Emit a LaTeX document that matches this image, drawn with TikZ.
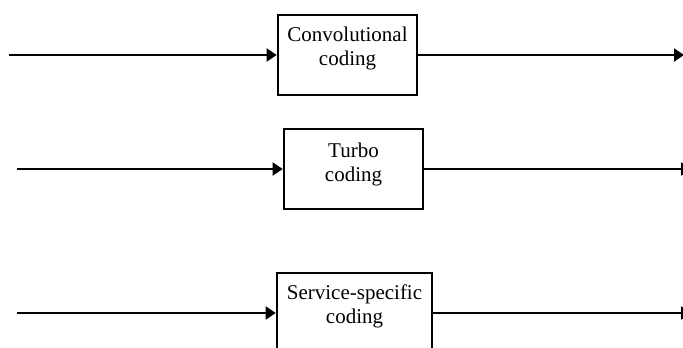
\documentclass[tikz,border=0pt]{standalone}
\usepackage{fontspec}
\setmainfont{Liberation Serif}
\usetikzlibrary{arrows.meta,positioning}

\begin{document}
\begin{tikzpicture}[x=0.5pt, y=-0.5pt, every node/.style={font=\fontsize{10.5}{12}\selectfont}, >={Triangle[length=5pt,width=6.5pt]}]

  \clip (0,0) rectangle (683,347);

  % Coding blocks
  \node (conv) [draw, line width=1.3pt, align=center, text depth=8.5pt, minimum height=40pt, minimum width=69.5pt] at (347.5,55) {Convolutional\\coding};
  \node (turbo) [draw, line width=1.3pt, align=center, text depth=6.3pt, minimum height=40pt, minimum width=69.5pt] at (353.5,169) {Turbo\\coding};
  \node (serv) [draw, line width=1.3pt, align=center, text depth=8.5pt, minimum height=40pt, minimum width=77.5pt] at (354.5,313) {Service-specific\\coding};

  % Free ends of the lines
  \coordinate (in1) at (9,55);
  \coordinate (in2) at (17,169);
  \coordinate (in3) at (17,313);
  \coordinate (out1) at (684,55);
  \coordinate (out2) at (691,169);
  \coordinate (out3) at (691,313);

  % Inputs and outputs
  \draw[->, line width=1pt] (in1) -- (conv.west);
  \draw[->, line width=1pt] (conv.east) -- (out1);
  \draw[->, line width=1pt] (in2) -- (turbo.west);
  \draw[->, line width=1pt] (turbo.east) -- (out2);
  \draw[->, line width=1pt] (in3) -- (serv.west);
  \draw[->, line width=1pt] (serv.east) -- (out3);

\end{tikzpicture}
\end{document}
